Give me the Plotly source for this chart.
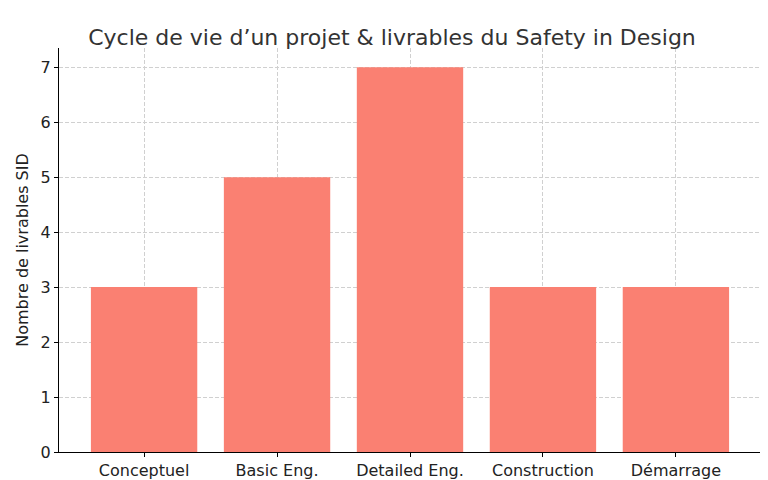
import plotly.graph_objects as go

phases = ["Conceptuel", "Basic Eng.", "Detailed Eng.", "Construction", "Démarrage"]
livrables = [3, 5, 7, 3, 3]

fig = go.Figure(go.Bar(
    x=phases, y=livrables, width=0.8,
    marker=dict(color="#FA8072", line=dict(width=0)),
))

axis_common = dict(
    showgrid=True, gridcolor="#d0d0d0", griddash="4px,2px", gridwidth=1,
    showline=True, linecolor="black", linewidth=1,
    ticks="outside", ticklen=4, tickcolor="black",
    tickfont=dict(size=16, color="#222"), zeroline=False,
    automargin=False,
)

fig.update_layout(
    width=768, height=480,
    font=dict(family="DejaVu Sans", color="#333"),
    title=dict(text="Cycle de vie d’un projet & livrables du Safety in Design",
               x=0.5, xanchor="center", y=0.955, font=dict(size=22, color="#333")),
    plot_bgcolor="white", paper_bgcolor="white",
    margin=dict(l=51, r=15, t=40, b=36),
    xaxis=dict(axis_common, range=[-0.64, 4.64]),
    yaxis=dict(axis_common, range=[0, 7.35], dtick=1,
               title=dict(text="Nombre de livrables SID", standoff=8,
                          font=dict(size=16, color="#222"))),
    bargap=0.2, showlegend=False,
)
fig.write_html("out.html")
